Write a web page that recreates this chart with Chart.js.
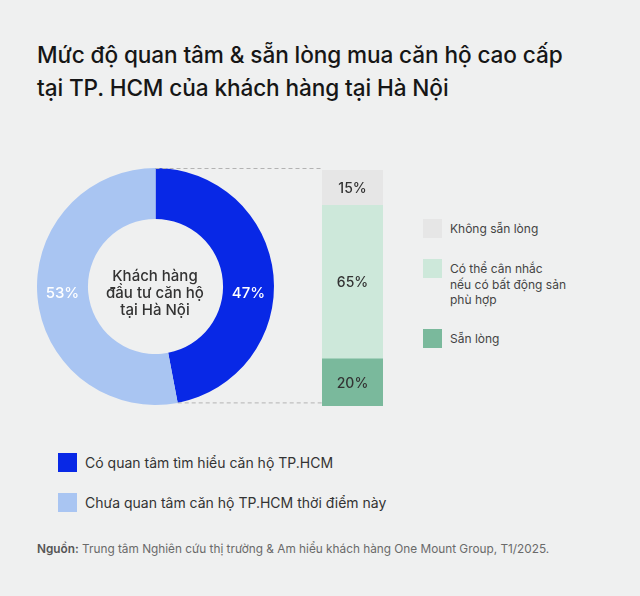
<!DOCTYPE html>
<html>
<head>
<meta charset="utf-8">
<script src="https://cdn.jsdelivr.net/npm/chart.js@4/dist/chart.umd.min.js"></script>
<style>
  html, body { margin: 0; padding: 0; }
  body { width: 640px; height: 596px; background: #eff0f0; position: relative; overflow: hidden; font-family: Inter, 'Noto Sans', sans-serif; }
  #title { position: absolute; left: 37px; top: 38px; font-size: 22.6px; font-weight: 500; line-height: 33px; color: #161616; letter-spacing: -0.1px; }
  #donutWrap { position: absolute; left: 37px; top: 166px; width: 285px; height: 242px; }
  #barWrap { position: absolute; left: 322px; top: 170px; width: 61px; height: 236px; }
  #centerText { position: absolute; left: 75px; top: 267px; width: 160px; text-align: center; font-size: 15px; font-weight: 500; line-height: 17px; color: #333; }
  .legend { position: absolute; margin: 0; padding: 0; list-style: none; }
  .legend li { display: flex; align-items: flex-start; }
  .legend .box { width: 19px; height: 19px; flex: none; }
  #rightLegend { left: 423px; top: 219px; font-size: 12px; line-height: 15.5px; color: #444; }
  #rightLegend li { margin-bottom: 21px; }
  #rightLegend .txt { margin-left: 8px; margin-top: 2px; }
  #bottomLegend { left: 58px; top: 453px; font-size: 14px; color: #333; }
  #bottomLegend li { margin-bottom: 21px; }
  #bottomLegend .txt { margin-left: 8px; line-height: 19px; }
  #source { position: absolute; left: 37px; top: 542px; font-size: 11.8px; color: #6a6a6a; }
  #source b { font-weight: 600; color: #555; }
</style>
</head>
<body>
<div id="title">Mức độ quan tâm &amp; sẵn lòng mua căn hộ cao cấp<br>tại TP. HCM của khách hàng tại Hà Nội</div>

<div id="donutWrap"><canvas id="donut"></canvas></div>
<div id="centerText">Khách hàng<br>đầu tư căn hộ<br>tại Hà Nội</div>
<div id="barWrap"><canvas id="bar"></canvas></div>

<ul id="rightLegend" class="legend"></ul>
<ul id="bottomLegend" class="legend"></ul>

<div id="source"><b>Nguồn:</b> Trung tâm Nghiên cứu thị trường &amp; Am hiểu khách hàng One Mount Group, T1/2025.</div>

<script>
const interestLabels = ['Có quan tâm tìm hiểu căn hộ TP.HCM', 'Chưa quan tâm căn hộ TP.HCM thời điểm này'];
const interestValues = [47, 53];
const interestColors = ['#0828e6', '#a9c5f2'];

// bottom to top
const willingLabels = ['Sẵn lòng', ['Có thể cân nhắc', 'nếu có bất động sản', 'phù hợp'], 'Không sẵn lòng'];
const willingValues = [20, 65, 15];
const willingColors = ['#7ab99c', '#cde8da', '#e6e6e6'];

const dashColor = '#b3b3b3';

// white % labels in the ring + dashed connectors to the bar
const donutExtras = {
  id: 'donutExtras',
  afterDraw(chart) {
    const ctx = chart.ctx;
    const arcs = chart.getDatasetMeta(0).data;
    const first = arcs[0];
    const cx = first.x, cy = first.y;
    const outer = first.outerRadius, inner = first.innerRadius;
    const mid = (outer + inner) / 2;

    ctx.save();
    ctx.font = '500 15px Inter, sans-serif';
    ctx.fillStyle = '#ffffff';
    ctx.textAlign = 'center';
    ctx.textBaseline = 'middle';
    arcs.forEach((arc, i) => {
      const p = arc.tooltipPosition();
      const side = p.x >= cx ? 1 : -1;
      ctx.fillText(interestValues[i] + '%', cx + side * mid, cy + 7);
    });

    // dashed lines: top of ring and end of first slice -> right edge
    const right = chart.width;
    ctx.strokeStyle = dashColor;
    ctx.lineWidth = 1;
    ctx.setLineDash([4, 3]);
    ctx.beginPath();
    ctx.moveTo(cx, cy - outer + 0.5);
    ctx.lineTo(right, cy - outer + 0.5);
    const endX = cx + Math.cos(first.endAngle) * outer;
    const endY = cy + Math.sin(first.endAngle) * outer;
    ctx.moveTo(endX, endY);
    ctx.lineTo(right, endY);
    ctx.stroke();
    ctx.restore();
  }
};

new Chart(document.getElementById('donut'), {
  type: 'doughnut',
  data: {
    labels: interestLabels,
    datasets: [{
      data: interestValues,
      backgroundColor: interestColors,
      borderWidth: 0
    }]
  },
  options: {
    responsive: true,
    maintainAspectRatio: false,
    animation: false,
    cutout: '57%',
    layout: { padding: { left: 0, right: 48, top: 2, bottom: 3 } },
    plugins: { legend: { display: false }, tooltip: { enabled: false } }
  },
  plugins: [donutExtras]
});

const barLabels = {
  id: 'barLabels',
  afterDatasetsDraw(chart) {
    const ctx = chart.ctx;
    ctx.save();
    ctx.font = '500 14px Inter, sans-serif';
    ctx.fillStyle = '#333333';
    ctx.textAlign = 'center';
    ctx.textBaseline = 'middle';
    chart.data.datasets.forEach((ds, i) => {
      const el = chart.getDatasetMeta(i).data[0];
      ctx.fillText(ds.data[0] + '%', el.x, (el.y + el.base) / 2 + 1);
    });
    ctx.restore();
  }
};

new Chart(document.getElementById('bar'), {
  type: 'bar',
  data: {
    labels: [''],
    datasets: willingValues.map((v, i) => ({
      label: willingLabels[i],
      data: [v],
      backgroundColor: willingColors[i],
      borderWidth: 0,
      barPercentage: 1,
      categoryPercentage: 1
    }))
  },
  options: {
    responsive: true,
    maintainAspectRatio: false,
    animation: false,
    layout: { padding: 0 },
    scales: {
      x: { stacked: true, display: false },
      y: { stacked: true, display: false, min: 0, max: 100 }
    },
    plugins: { legend: { display: false }, tooltip: { enabled: false } }
  },
  plugins: [barLabels]
});

// right legend, top to bottom
const rightLegend = document.getElementById('rightLegend');
for (let i = willingLabels.length - 1; i >= 0; i--) {
  const lbl = Array.isArray(willingLabels[i]) ? willingLabels[i].join('<br>') : willingLabels[i];
  rightLegend.innerHTML += '<li><span class="box" style="background:' + willingColors[i] + '"></span><span class="txt">' + lbl + '</span></li>';
}

const bottomLegend = document.getElementById('bottomLegend');
interestLabels.forEach((lbl, i) => {
  bottomLegend.innerHTML += '<li><span class="box" style="background:' + interestColors[i] + '"></span><span class="txt">' + lbl + '</span></li>';
});
</script>
</body>
</html>
